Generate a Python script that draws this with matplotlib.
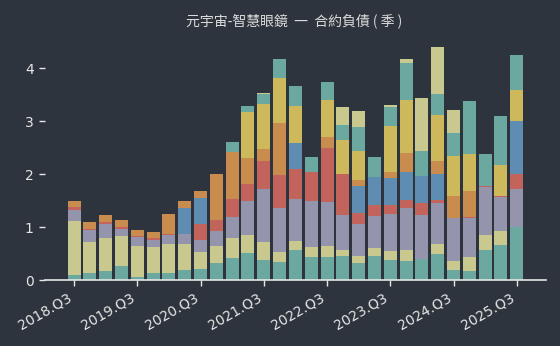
import matplotlib
matplotlib.use('Agg')
import matplotlib.pyplot as plt
import numpy as np

# quarters, 2018.Q3 .. 2025.Q3
quarters = [f'{y}.Q{q}' for y in range(2018, 2026) for q in range(1, 5)][2:31]

# stacked layers, bottom to top
teal = [0.10, 0.13, 0.18, 0.26, 0.06, 0.13, 0.13, 0.19, 0.21, 0.32,
        0.42, 0.51, 0.38, 0.35, 0.57, 0.43, 0.43, 0.45, 0.33, 0.45,
        0.38, 0.37, 0.40, 0.50, 0.20, 0.17, 0.58, 0.66, 1.00]
khaki = [1.01, 0.59, 0.62, 0.58, 0.59, 0.49, 0.55, 0.49, 0.33, 0.32,
         0.38, 0.35, 0.35, 0.18, 0.17, 0.20, 0.22, 0.12, 0.13, 0.15,
         0.17, 0.21, 0.00, 0.18, 0.17, 0.26, 0.28, 0.26, 0.00]
lavender = [0.22, 0.22, 0.26, 0.12, 0.16, 0.14, 0.17, 0.19, 0.22, 0.29,
            0.40, 0.64, 0.99, 0.83, 0.79, 0.87, 0.82, 0.66, 0.60, 0.61,
            0.70, 0.79, 0.84, 0.77, 0.80, 0.75, 0.89, 0.65, 0.73]
red = [0.06, 0.03, 0.04, 0.05, 0.03, 0.03, 0.02, 0.00, 0.30, 0.21,
       0.33, 0.31, 0.52, 0.63, 0.56, 0.54, 1.02, 0.78, 0.20, 0.21,
       0.17, 0.15, 0.22, 0.06, 0.00, 0.01, 0.02, 0.02, 0.27]
blue = [0.00, 0.00, 0.00, 0.00, 0.00, 0.00, 0.00, 0.49, 0.49, 0.00,
        0.00, 0.00, 0.00, 0.00, 0.49, 0.00, 0.00, 0.00, 0.51, 0.52,
        0.50, 0.52, 0.50, 0.49, 0.00, 0.00, 0.00, 0.00, 1.00]
orange = [0.11, 0.13, 0.13, 0.13, 0.11, 0.12, 0.38, 0.14, 0.14, 0.87,
          0.88, 0.50, 0.24, 0.98, 0.00, 0.00, 0.22, 0.00, 0.12, 0.00,
          0.13, 0.36, 0.00, 0.24, 0.41, 0.49, 0.00, 0.00, 0.00]
yellow = [0.00, 0.00, 0.00, 0.00, 0.00, 0.00, 0.00, 0.00, 0.00, 0.00,
          0.00, 0.87, 0.85, 0.84, 0.71, 0.00, 0.69, 0.63, 0.54, 0.00,
          0.85, 0.99, 0.00, 0.87, 0.77, 0.71, 0.00, 0.58, 0.58]
teal2 = [0.00, 0.00, 0.00, 0.00, 0.00, 0.00, 0.00, 0.00, 0.00, 0.00,
         0.19, 0.11, 0.19, 0.36, 0.38, 0.28, 0.34, 0.29, 0.46, 0.39,
         0.36, 0.71, 0.47, 0.40, 0.43, 0.99, 0.62, 0.92, 0.67]
khaki2 = [0.00, 0.00, 0.00, 0.00, 0.00, 0.00, 0.00, 0.00, 0.00, 0.00,
          0.00, 0.00, 0.02, 0.00, 0.00, 0.00, 0.00, 0.33, 0.30, 0.00,
          0.05, 0.08, 1.00, 0.88, 0.44, 0.00, 0.00, 0.00, 0.00]

layers = [teal, khaki, lavender, red, blue, orange, yellow, teal2, khaki2]
colors = ['#6aa8a0', '#c9c98f', '#9494ad', '#c2635c', '#5f8db1',
          '#c98c4f', '#cdb95b', '#6aa8a0', '#c9c98f']

bg = '#2e343d'
fg = '#e6e6e6'

fig = plt.figure(figsize=(5.6, 3.46), dpi=100, facecolor=bg)
ax = fig.add_axes([0.08, 0.19, 0.895, 0.705], facecolor=bg)

x = np.arange(len(quarters))
bottom = np.zeros(len(quarters))
for vals, c in zip(layers, colors):
    ax.bar(x, vals, width=0.82, bottom=bottom, color=c, linewidth=0)
    bottom += np.array(vals)

ax.set_xlim(-1.85, len(quarters) + 0.85)
ax.set_ylim(0, 4.6)
ax.set_yticks([0, 1, 2, 3, 4])
ax.set_xticks(x[::4])
ax.set_xticklabels(quarters[::4], rotation=30, ha='right')

for s in ['left', 'right', 'top']:
    ax.spines[s].set_visible(False)
ax.spines['bottom'].set_color(fg)
ax.spines['bottom'].set_linewidth(1.2)
ax.tick_params(colors=fg, labelsize=10, length=4, width=1)
ax.tick_params(axis='y', pad=4)

fig.text(0.525, 0.94, '元宇宙-智慧眼鏡  一  合約負債 ( 季 )', ha='center', va='center',
         color='#dcdcdc', fontsize=10, family=['Noto Sans CJK TC', 'DejaVu Sans'])

fig.savefig('out.png', dpi=100, facecolor=bg)
